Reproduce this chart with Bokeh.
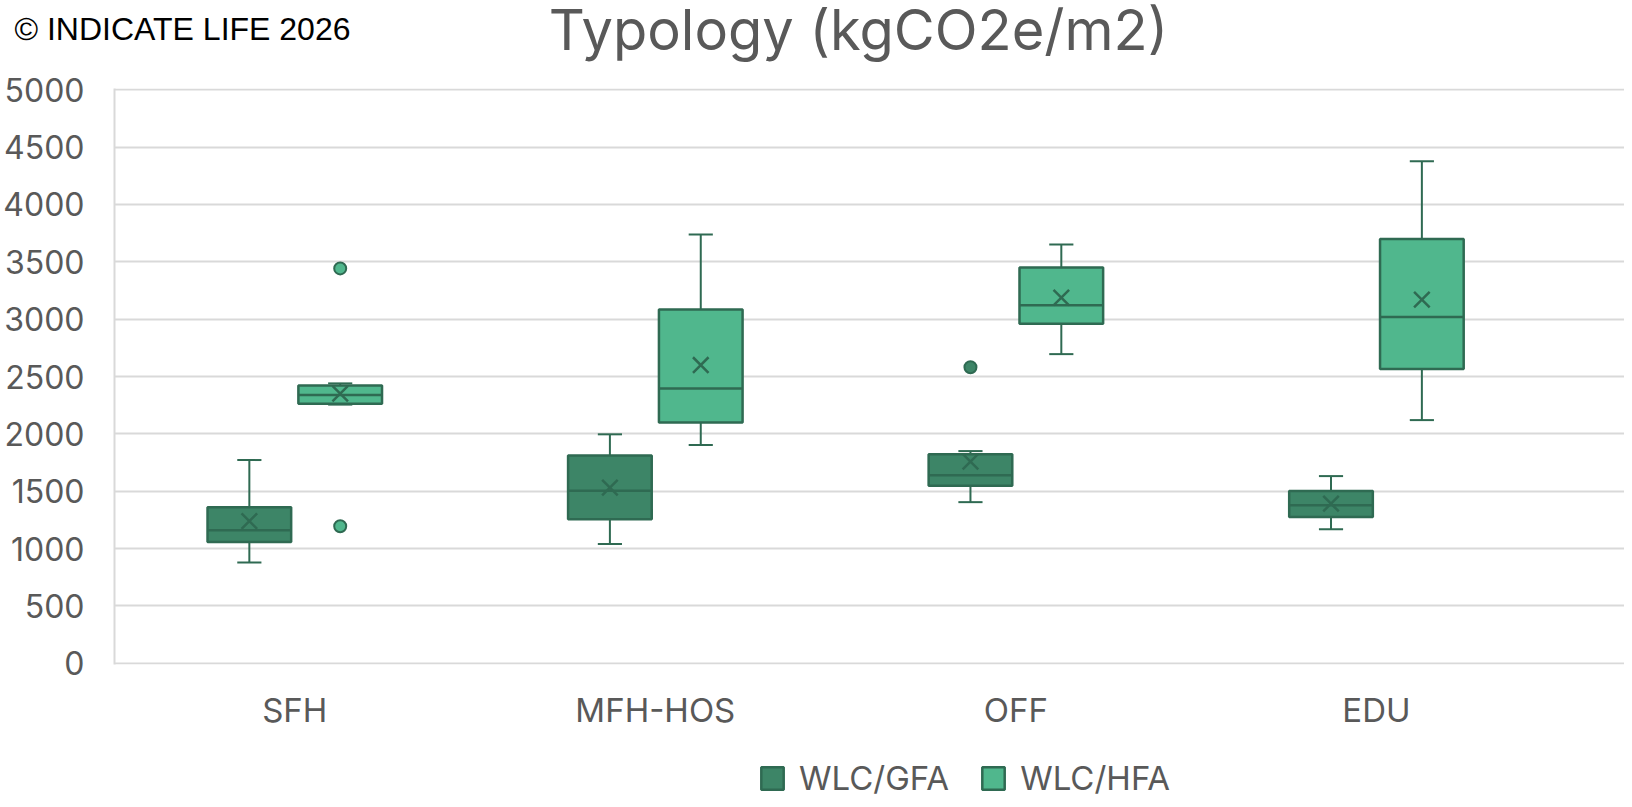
from bokeh.plotting import figure
from bokeh.models import (Range1d, FixedTicker, Legend, LegendItem, Label, ColumnDataSource)
from bokeh.layouts import column
from bokeh.embed import file_html
from bokeh.resources import INLINE

# ---------------- data ----------------
categories = ["SFH", "MFH-HOS", "OFF", "EDU"]
series_names = ["WLC/GFA", "WLC/HFA"]

gfa_min = [880, 1040, 1405, 1168]
gfa_q1 = [1058, 1255, 1548, 1275]
gfa_med = [1160, 1505, 1640, 1378]
gfa_q3 = [1360, 1812, 1822, 1502]
gfa_max = [1772, 1996, 1850, 1632]
gfa_mean = [1240, 1532, 1758, 1392]
gfa_out_cat = ["OFF"]
gfa_out_val = [2580]

hfa_min = [2255, 1903, 2695, 2120]
hfa_q1 = [2262, 2099, 2960, 2565]
hfa_med = [2338, 2395, 3120, 3018]
hfa_q3 = [2422, 3085, 3449, 3698]
hfa_max = [2440, 3737, 3650, 4375]
hfa_mean = [2350, 2600, 3187, 3170]
hfa_out_cat = ["SFH", "SFH"]
hfa_out_val = [3442, 1195]

y_ticks = [0, 500, 1000, 1500, 2000, 2500, 3000, 3500, 4000, 4500, 5000]

title_text = "Typology (kgCO2e/m2)"
copyright_text = "© INDICATE LIFE 2026"

# ---------------- style ----------------
FONT = "Inter"
TXT = "#595959"
GRID = "#d9d9d9"
EDGE = "#2f6a52"
GFA_FILL = "#3d8567"
HFA_FILL = "#50b78d"
BOX_W = 0.232
OFFSET = 0.126
CAP_W = 0.067
W = 1624
H_HEAD = 68
MAIN_TOP = 20
FRAME_H = 576
MAIN_BOTTOM = 90
H_MAIN = MAIN_TOP + FRAME_H + MAIN_BOTTOM
H_LEG = 44


def bare_figure(height, x0=0):
    f = figure(width=W, height=height, output_backend="svg", toolbar_location=None,
               x_axis_location=None, y_axis_location=None,
               x_range=Range1d(x0, x0 + W), y_range=Range1d(0, height),
               min_border=0, min_border_left=0, min_border_right=0,
               min_border_top=0, min_border_bottom=0, frame_align=False)
    f.outline_line_color = None
    f.grid.grid_line_color = None
    f.background_fill_color = "white"
    f.border_fill_color = "white"
    return f


# ---------------- header (copyright + title) ----------------
head = bare_figure(H_HEAD)
head.add_layout(Label(x=14, y=40, text=copyright_text, text_font="Liberation Sans",
                      text_font_size="32px", text_color="black", text_baseline="alphabetic",
                      text_align="left"))
head.add_layout(Label(x=858, y=39, text=title_text, text_font=FONT,
                      text_font_size="56px", text_color=TXT, text_baseline="alphabetic",
                      text_align="center"))

# ---------------- main plot ----------------
cat_x = {c: i + 0.5 for i, c in enumerate(categories)}

p = figure(width=W, height=H_MAIN, output_backend="svg", toolbar_location=None,
           x_range=Range1d(0, 4.188), y_range=Range1d(-10, 5010), frame_align=False,
           min_border_left=108, min_border_right=0, min_border_top=MAIN_TOP,
           min_border_bottom=MAIN_BOTTOM)
p.outline_line_color = None
p.background_fill_color = "white"
p.border_fill_color = "white"

p.yaxis.ticker = FixedTicker(ticks=y_ticks)
p.yaxis.major_label_text_font = FONT
p.yaxis.major_label_text_font_size = "32px"
p.yaxis.major_label_text_color = TXT
p.yaxis.axis_line_color = GRID
p.yaxis.axis_line_width = 2
p.yaxis.major_tick_line_color = None
p.yaxis.minor_tick_line_color = None
p.yaxis.major_label_standoff = 24

p.xaxis.ticker = FixedTicker(ticks=[cat_x[c] for c in categories])
p.xaxis.major_label_overrides = {cat_x[c]: c for c in categories}
p.xaxis.major_label_text_font = FONT
p.xaxis.major_label_text_font_size = "33px"
p.xaxis.major_label_text_color = TXT
p.xaxis.axis_line_color = None
p.xaxis.major_tick_line_color = None
p.xaxis.minor_tick_line_color = None
p.xaxis.major_label_standoff = 19

p.xgrid.grid_line_color = None
p.ygrid.ticker = FixedTicker(ticks=y_ticks)
p.ygrid.grid_line_color = GRID
p.ygrid.grid_line_width = 2


def series_source(vmin, q1, med, q3, vmax, mean, off):
    xs = [cat_x[c] + off for c in categories]
    return ColumnDataSource(dict(x=xs, x0=[x - CAP_W / 2 for x in xs], x1=[x + CAP_W / 2 for x in xs],
                                 bx0=[x - BOX_W / 2 for x in xs], bx1=[x + BOX_W / 2 for x in xs],
                                 vmin=vmin, q1=q1, med=med, q3=q3, vmax=vmax, mean=mean))


def draw_series(src, out_cat, out_val, off, fill):
    p.segment(x0="x", y0="q3", x1="x", y1="vmax", source=src, line_color=EDGE, line_width=2)
    p.segment(x0="x", y0="q1", x1="x", y1="vmin", source=src, line_color=EDGE, line_width=2)
    p.segment(x0="x0", y0="vmax", x1="x1", y1="vmax", source=src, line_color=EDGE, line_width=2)
    p.segment(x0="x0", y0="vmin", x1="x1", y1="vmin", source=src, line_color=EDGE, line_width=2)
    p.vbar(x="x", width=BOX_W, bottom="q1", top="q3", source=src,
           fill_color=fill, line_color=EDGE, line_width=2.5)
    p.segment(x0="bx0", y0="med", x1="bx1", y1="med", source=src, line_color=EDGE, line_width=2.5)
    p.scatter(x="x", y="mean", source=src, marker="x", size=22, line_color=EDGE, line_width=2.5)
    ox = [cat_x[c] + off for c in out_cat]
    p.scatter(x=ox, y=out_val, marker="circle", size=12, fill_color=fill,
              line_color=EDGE, line_width=2)


gfa_src = series_source(gfa_min, gfa_q1, gfa_med, gfa_q3, gfa_max, gfa_mean, -OFFSET)
hfa_src = series_source(hfa_min, hfa_q1, hfa_med, hfa_q3, hfa_max, hfa_mean, OFFSET)
draw_series(gfa_src, gfa_out_cat, gfa_out_val, -OFFSET, GFA_FILL)
draw_series(hfa_src, hfa_out_cat, hfa_out_val, OFFSET, HFA_FILL)

# ---------------- legend strip ----------------
# the same boxes as hidden proxies: only their legend entries are shown
leg = bare_figure(H_LEG, x0=5000)
r_gfa = leg.vbar(x="x", width=BOX_W, bottom="q1", top="q3", source=gfa_src,
                 fill_color=GFA_FILL, line_color=EDGE, line_width=2.5, visible=False)
r_hfa = leg.vbar(x="x", width=BOX_W, bottom="q1", top="q3", source=hfa_src,
                 fill_color=HFA_FILL, line_color=EDGE, line_width=2.5, visible=False)
legend = Legend(items=[LegendItem(label=series_names[0], renderers=[r_gfa]),
                       LegendItem(label=series_names[1], renderers=[r_hfa])],
                orientation="horizontal", location=(758, 0.5),
                glyph_width=28, glyph_height=28, label_standoff=13, spacing=30,
                label_height=28, label_text_line_height=0.8,
                padding=0, margin=0, border_line_color=None, background_fill_alpha=0,
                inactive_fill_alpha=0,
                label_text_font=FONT, label_text_font_size="33px", label_text_color=TXT)
leg.add_layout(legend)

layout = column(head, p, leg, spacing=0)
open("out.html", "w").write(file_html(layout, INLINE))
